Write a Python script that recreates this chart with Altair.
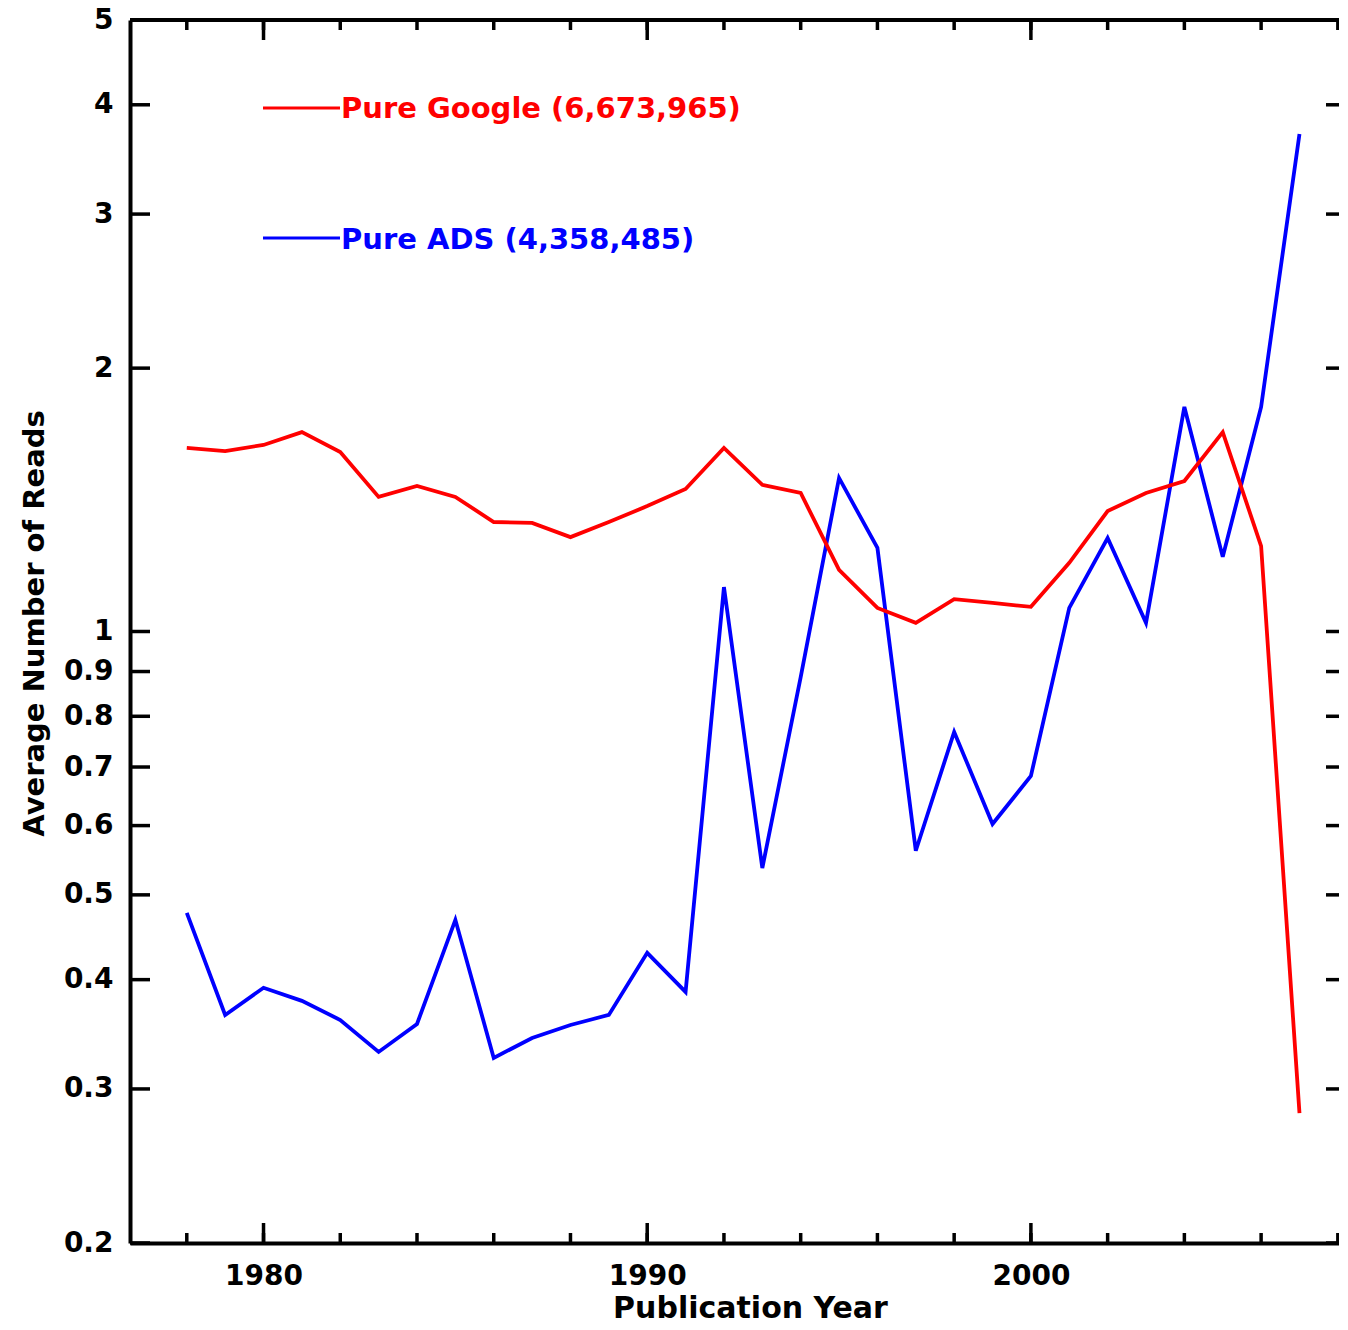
import altair as alt
import pandas as pd

# ---------------- data ----------------
years = list(range(1978, 2008))
google = [1.621, 1.608, 1.634, 1.690, 1.604, 1.425, 1.467, 1.425, 1.334, 1.331,
          1.282, 1.334, 1.391, 1.455, 1.621, 1.471, 1.440, 1.176, 1.064, 1.023,
          1.089, 1.078, 1.067, 1.198, 1.373, 1.440, 1.486, 1.690, 1.252, 0.2815]
ads = [0.4769, 0.3645, 0.3915, 0.3783, 0.3597, 0.3307, 0.3559, 0.4682, 0.3255, 0.3431,
       0.3550, 0.3645, 0.4292, 0.3873, 1.124, 0.5366, 0.887, 1.498, 1.246, 0.5615,
       0.7677, 0.6026, 0.6837, 1.064, 1.279, 1.023, 1.806, 1.217, 1.806, 3.705]

y_ticks = [0.2, 0.3, 0.4, 0.5, 0.6, 0.7, 0.8, 0.9, 1, 2, 3, 4, 5]
x_tick_years = list(range(1978, 2009, 2))
x_major_years = [1980, 1990, 2000]
x_domain = [1976.52, 2008.03]
y_domain = [0.2, 5]
legend_labels = ["Pure Google (6,673,965)", "Pure ADS (4,358,485)"]

# ---------------- styling ----------------
W, H = 1209, 1223
FONT = "DejaVu Sans"
RED = "#ff0000"
BLUE = "#0000ff"

xs = alt.Scale(domain=x_domain, nice=False, zero=False)
ys = alt.Scale(type="log", domain=y_domain, nice=False)

df = pd.DataFrame({"year": years, "google": google, "ads": ads})
yt = pd.DataFrame({"v": y_ticks})
xt = pd.DataFrame({"yr": [y for y in x_tick_years if y <= x_domain[1]]})
xm = pd.DataFrame({"yr": x_major_years})
one = pd.DataFrame({"a": [0]})

x_axis = alt.Axis(
    values=x_major_years, format="d", ticks=False, tickSize=0, grid=False,
    labelPadding=19, labelFont=FONT, labelFontSize=28, labelFontWeight="bold",
    labelColor="black", labelFlush=False, labelOverlap=False,
    domainColor="black", domainWidth=4,
    title="Publication Year", titleFont=FONT, titleFontSize=30,
    titleFontWeight="bold", titleColor="black", titleBaseline="alphabetic",
    titleY=74, titleX=620, titleAlign="center",
)
y_axis = alt.Axis(
    values=y_ticks, format="~g", ticks=False, tickSize=0, grid=False,
    labelPadding=17, labelFont=FONT, labelFontSize=28, labelFontWeight="bold",
    labelColor="black", labelFlush=False, labelOverlap=False,
    domainColor="black", domainWidth=4,
    title="Average Number of Reads", titleFont=FONT, titleFontSize=29,
    titleFontWeight="bold", titleColor="black", titleAngle=270,
    titleBaseline="alphabetic", titleX=-87, titleY=603, titleAlign="center",
)

base = alt.Chart(df)
ads_line = base.mark_line(color=BLUE, strokeWidth=3.8).encode(
    x=alt.X("year:Q", scale=xs, axis=x_axis),
    y=alt.Y("ads:Q", scale=ys, axis=y_axis),
)
google_line = base.mark_line(color=RED, strokeWidth=3.8).encode(
    x=alt.X("year:Q", scale=xs, axis=x_axis),
    y=alt.Y("google:Q", scale=ys, axis=y_axis),
)

tick_style = dict(color="black", strokeWidth=3.5)
left_ticks = alt.Chart(yt).mark_rule(**tick_style).encode(
    y=alt.Y("v:Q", scale=ys, axis=y_axis), x=alt.value(0), x2=alt.value(20))
right_ticks = alt.Chart(yt).mark_rule(**tick_style).encode(
    y=alt.Y("v:Q", scale=ys, axis=y_axis), x=alt.value(W - 13), x2=alt.value(W))
bottom_minor = alt.Chart(xt).mark_rule(**tick_style).encode(
    x=alt.X("yr:Q", scale=xs, axis=x_axis), y=alt.value(H), y2=alt.value(H - 10))
bottom_major = alt.Chart(xm).mark_rule(**tick_style).encode(
    x=alt.X("yr:Q", scale=xs, axis=x_axis), y=alt.value(H), y2=alt.value(H - 20))
top_minor = alt.Chart(xt).mark_rule(**tick_style).encode(
    x=alt.X("yr:Q", scale=xs, axis=x_axis), y=alt.value(0), y2=alt.value(10))
top_major = alt.Chart(xm).mark_rule(**tick_style).encode(
    x=alt.X("yr:Q", scale=xs, axis=x_axis), y=alt.value(0), y2=alt.value(20))
top_border = alt.Chart(one).mark_rule(color="black", strokeWidth=4).encode(
    x=alt.value(0), x2=alt.value(W), y=alt.value(0))

# legend (drawn as annotation)
g_leg_line = alt.Chart(one).mark_rule(color=RED, strokeWidth=3).encode(
    x=alt.value(133), x2=alt.value(210), y=alt.value(88))
g_leg_text = alt.Chart(one).mark_text(
    align="left", baseline="alphabetic", font=FONT, fontSize=29,
    fontWeight="bold", color=RED).encode(
    x=alt.value(211), y=alt.value(98), text=alt.value(legend_labels[0]))
a_leg_line = alt.Chart(one).mark_rule(color=BLUE, strokeWidth=3).encode(
    x=alt.value(133), x2=alt.value(210), y=alt.value(218))
a_leg_text = alt.Chart(one).mark_text(
    align="left", baseline="alphabetic", font=FONT, fontSize=29,
    fontWeight="bold", color=BLUE).encode(
    x=alt.value(211), y=alt.value(229), text=alt.value(legend_labels[1]))

chart = alt.layer(
    ads_line, google_line,
    left_ticks, right_ticks, bottom_minor, bottom_major, top_minor, top_major,
    top_border, g_leg_line, g_leg_text, a_leg_line, a_leg_text,
).properties(
    width=W, height=H,
    padding={"left": 122, "top": 12, "right": 0, "bottom": 80},
    autosize=alt.AutoSizeParams(type="none"),
).configure(background="white").configure_view(stroke=None)

chart.save("out.html", embed_options={"renderer": "svg", "actions": False})
